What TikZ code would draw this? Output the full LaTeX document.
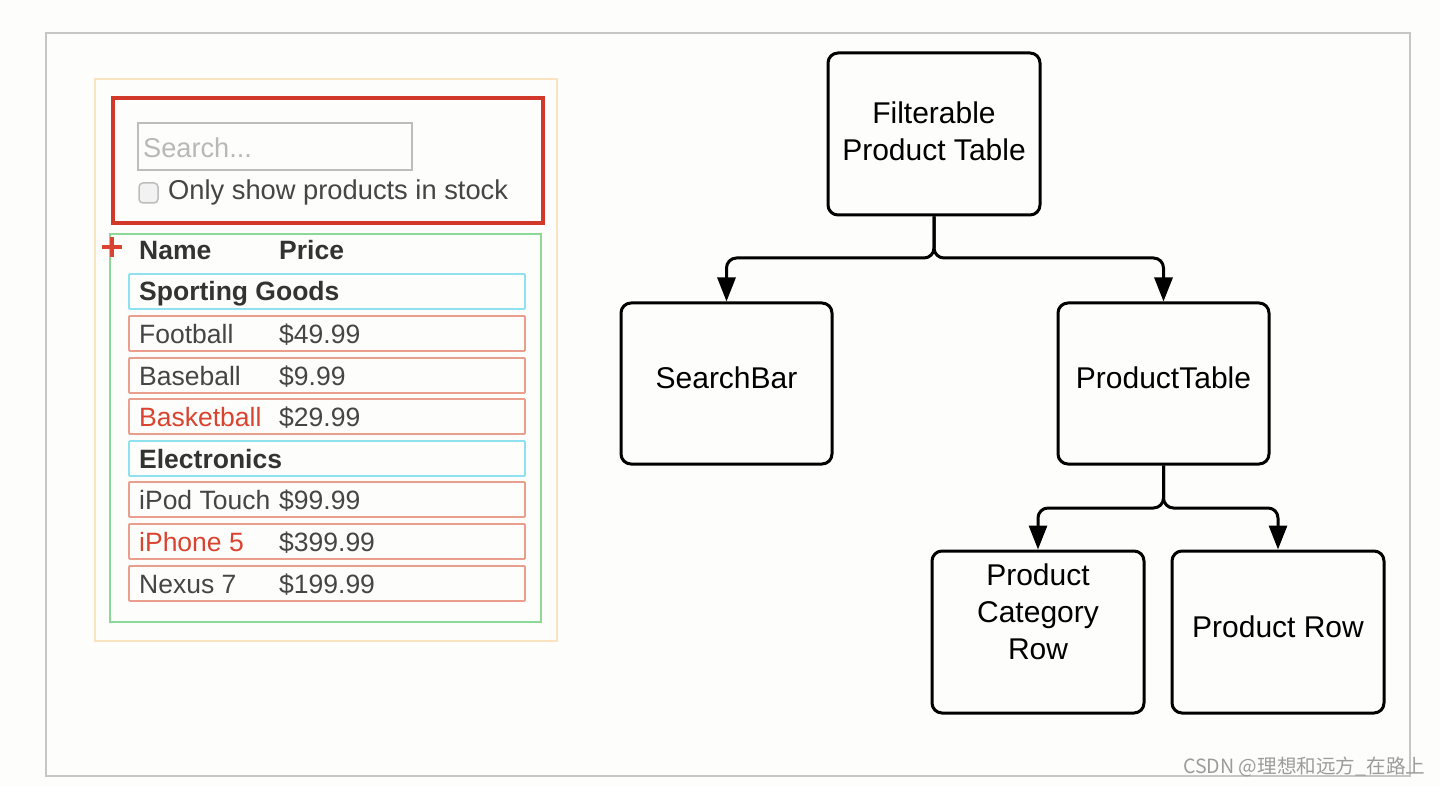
\documentclass[tikz,border=0pt]{standalone}
\usepackage{fontspec}
\setmainfont{Liberation Sans}
\newfontfamily\cjk{Noto Sans CJK SC}
\usetikzlibrary{arrows.meta}
\definecolor{bg}{HTML}{FDFDFB}
\definecolor{framegray}{HTML}{C6C6C6}
\definecolor{peach}{HTML}{FBE3C2}
\definecolor{boxred}{HTML}{D2382A}
\definecolor{inputgray}{HTML}{BDBDBD}
\definecolor{boxgreen}{HTML}{8CD897}
\definecolor{catcyan}{HTML}{8EE2EF}
\definecolor{rowred}{HTML}{EA9E8E}
\definecolor{txt}{HTML}{454545}
\definecolor{txtdark}{HTML}{333333}
\definecolor{txtred}{HTML}{D9432F}
\definecolor{placeholder}{HTML}{B8B8B8}
\definecolor{wm}{HTML}{9C9C9C}
\newcommand{\treefont}{\fontsize{30}{37}\selectfont}
\newcommand{\panelfont}{\fontsize{26.5}{30}\selectfont}
\begin{document}
\begin{tikzpicture}[x=1pt,y=-1pt,
  tbox/.style={draw=black, line width=3pt, rounded corners=10pt,
    minimum width=212pt, minimum height=162pt, font=\treefont,
    align=center, inner sep=0pt},
  conn/.style={line width=3pt, rounded corners=10pt,
    -{Triangle[length=24pt,width=18pt]}},
  rowbox/.style={draw=rowred, line width=1.8pt, rounded corners=1pt},
  catbox/.style={draw=catcyan, line width=1.8pt, rounded corners=1pt},
  rname/.style={anchor=base west, inner sep=0pt, font=\panelfont, text=txt},
  rbold/.style={anchor=base west, inner sep=0pt, font=\panelfont\bfseries, text=txtdark},
]
\fill[bg] (0,0) rectangle (1440,786);
\useasboundingbox (0,0) rectangle (1440,786);

% outer frame
\draw[framegray, line width=2pt] (46,33) rectangle (1410,776);

% ---------- left mockup ----------
\draw[peach, line width=2pt] (95,79) rectangle (557,641);
\draw[boxred, line width=3.5pt] (113,98) rectangle (543,223);
\draw[inputgray, line width=2pt] (138,123) rectangle (412,170);
\node[anchor=base west, inner sep=0pt, font=\fontsize{27.2}{30}\selectfont, text=placeholder] (search) at (143,157.5) {Search...};
\draw[inputgray, line width=1.5pt, fill=black!5, rounded corners=4pt] (139,183) rectangle (158,203);
\node[rname, font=\fontsize{27.3}{30}\selectfont] (stock) at (168,200) {Only show products in stock};

\draw[boxgreen, line width=2pt] (110,234) rectangle (541,622);
\draw[txtred, line width=3.5pt] (102,247) -- (122,247) (112,237) -- (112,257);
\node[rbold] (hname) at (139,259.5) {Name};
\node[rbold] (hprice) at (279,259.5) {Price};

\draw[catbox] (129,274) rectangle (525,309);
\node[rbold] (c1) at (139,301) {Sporting Goods};

\draw[rowbox] (129,316) rectangle (525,351);
\node[rname] (n1) at (139,343) {Football};
\node[rname] (p1) at (279,343) {\$49.99};

\draw[rowbox] (129,358) rectangle (525,393);
\node[rname] (n2) at (139,385) {Baseball};
\node[rname] (p2) at (279,385) {\$9.99};

\draw[rowbox] (129,399) rectangle (525,434);
\node[rname, text=txtred] (n3) at (139,426) {Basketball};
\node[rname] (p3) at (279,426) {\$29.99};

\draw[catbox] (129,441) rectangle (525,476);
\node[rbold] (c2) at (139,468) {Electronics};

\draw[rowbox] (129,482) rectangle (525,517);
\node[rname] (n4) at (139,509) {iPod Touch};
\node[rname] (p4) at (279,509) {\$99.99};

\draw[rowbox] (129,524) rectangle (525,559);
\node[rname, text=txtred] (n5) at (139,551) {iPhone 5};
\node[rname] (p5) at (279,551) {\$399.99};

\draw[rowbox] (129,566) rectangle (525,601);
\node[rname] (n6) at (139,593) {Nexus 7};
\node[rname] (p6) at (279,593) {\$199.99};

% ---------- component tree ----------
\node[tbox, text depth=6pt] (fpt) at (934,134) {Filterable\\Product Table};
\node[tbox, text depth=11pt, minimum width=211pt, minimum height=161pt] (sb) at (726.5,383.5) {SearchBar};
\node[tbox, text depth=11pt, minimum width=211pt, minimum height=161pt] (pt) at (1163.5,383.5) {ProductTable};
\node[tbox] (pcr) at (1038,632) {};
\node[font=\treefont, align=center, inner sep=0pt] (pcrtext) at (1038,612) {Product\\Category\\Row};
\node[tbox, text depth=10pt] (pr) at (1278,632) {Product Row};

\coordinate (j1) at (934,258);
\coordinate (j2) at (1163.5,508);
\draw[conn] (fpt.south) -- (j1) -| (sb.north);
\draw[conn] (fpt.south) -- (j1) -| (pt.north);
\draw[conn] (pt.south) -- (j2) -| (pcr.north);
\draw[conn] (pt.south) -- (j2) -| (pr.north);

% watermark
\node[anchor=west, inner sep=0pt, font=\cjk\fontsize{19.6}{22}\selectfont, text=wm] (wmark) at (1183,767) {CSDN @理想和远方\_在路上};
\end{tikzpicture}
\end{document}
